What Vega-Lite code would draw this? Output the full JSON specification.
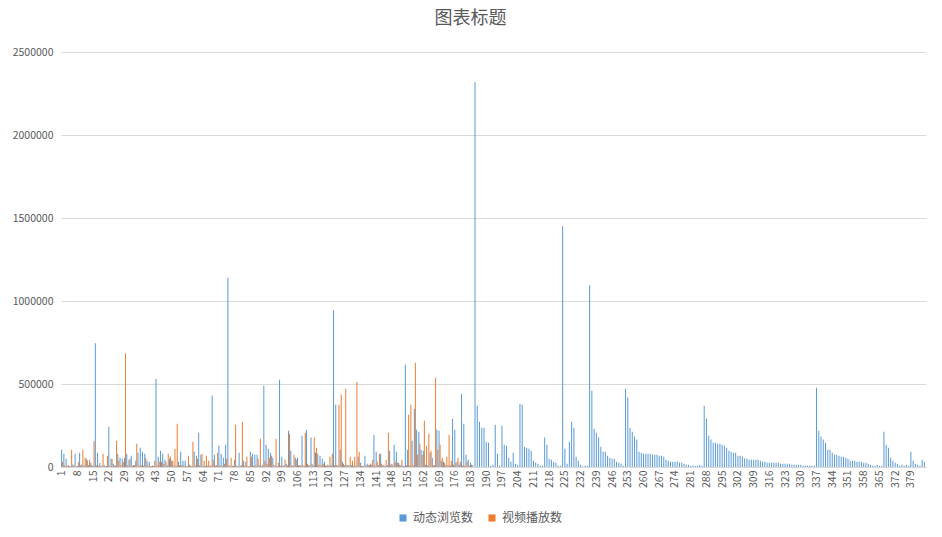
{
  "$schema": "https://vega.github.io/schema/vega-lite/v6.json",
  "autosize": {"type": "none"},
  "width": 865,
  "height": 415,
  "padding": {"left": 61, "top": 52, "right": 16, "bottom": 70},
  "background": "#ffffff",
  "title": {"text": "图表标题", "fontSize": 18, "font": "Noto Sans CJK SC", "fontWeight": "normal", "color": "#595959", "anchor": "middle", "dx": -23, "baseline": "middle", "offset": 10},
  "config": {"view": {"stroke": null}, "font": "Noto Sans CJK SC"},
  "data": {"values": [
{"c":1,"a":104000,"b":32000},{"c":2,"a":80000,"b":10000},{"c":3,"a":50000,"b":8000},{"c":4,"a":10000,"b":6000},{"c":5,"a":5000,"b":104000},
{"c":6,"a":15000,"b":10000},{"c":7,"a":80000,"b":5000},{"c":8,"a":6000,"b":28000},{"c":9,"a":86000,"b":10000},{"c":10,"a":15000,"b":104000},
{"c":11,"a":10000,"b":56000},{"c":12,"a":50000,"b":40000},{"c":13,"a":10000,"b":44000},{"c":14,"a":25000,"b":12000},{"c":15,"a":8000,"b":155000},
{"c":16,"a":745000,"b":10000},{"c":17,"a":86000,"b":8000},{"c":18,"a":24000,"b":6000},{"c":19,"a":10000,"b":80000},{"c":20,"a":10000,"b":5000},
{"c":21,"a":6000,"b":68000},{"c":22,"a":243000,"b":8000},{"c":23,"a":50000,"b":50000},{"c":24,"a":20000,"b":10000},{"c":25,"a":8000,"b":158000},
{"c":26,"a":80000,"b":38000},{"c":27,"a":56000,"b":10000},{"c":28,"a":50000,"b":30000},{"c":29,"a":56000,"b":685000},{"c":30,"a":80000,"b":10000},
{"c":31,"a":44000,"b":50000},{"c":32,"a":68000,"b":8000},{"c":33,"a":10000,"b":12000},{"c":34,"a":38000,"b":140000},{"c":35,"a":86000,"b":8000},
{"c":36,"a":116000,"b":10000},{"c":37,"a":92000,"b":8000},{"c":38,"a":80000,"b":56000},{"c":39,"a":38000,"b":10000},{"c":40,"a":32000,"b":6000},
{"c":41,"a":5000,"b":10000},{"c":42,"a":6000,"b":38000},{"c":43,"a":532000,"b":10000},{"c":44,"a":62000,"b":32000},{"c":45,"a":98000,"b":32000},
{"c":46,"a":80000,"b":20000},{"c":47,"a":44000,"b":30000},{"c":48,"a":10000,"b":80000},{"c":49,"a":50000,"b":62000},{"c":50,"a":38000,"b":38000},
{"c":51,"a":10000,"b":110000},{"c":52,"a":8000,"b":261000},{"c":53,"a":32000,"b":10000},{"c":54,"a":92000,"b":10000},{"c":55,"a":38000,"b":10000},
{"c":56,"a":38000,"b":6000},{"c":57,"a":5000,"b":68000},{"c":58,"a":14000,"b":8000},{"c":59,"a":6000,"b":152000},{"c":60,"a":92000,"b":10000},
{"c":61,"a":68000,"b":50000},{"c":62,"a":206000,"b":10000},{"c":63,"a":74000,"b":80000},{"c":64,"a":8000,"b":38000},{"c":65,"a":6000,"b":68000},
{"c":66,"a":8000,"b":38000},{"c":67,"a":8000,"b":10000},{"c":68,"a":430000,"b":44000},{"c":69,"a":74000,"b":8000},{"c":70,"a":10000,"b":86000},
{"c":71,"a":128000,"b":10000},{"c":72,"a":80000,"b":8000},{"c":73,"a":56000,"b":20000},{"c":74,"a":134000,"b":50000},{"c":75,"a":1140000,"b":10000},
{"c":76,"a":8000,"b":56000},{"c":77,"a":8000,"b":8000},{"c":78,"a":44000,"b":255000},{"c":79,"a":8000,"b":6000},{"c":80,"a":86000,"b":8000},
{"c":81,"a":10000,"b":273000},{"c":82,"a":38000,"b":8000},{"c":83,"a":32000,"b":62000},{"c":84,"a":6000,"b":6000},{"c":85,"a":92000,"b":62000},
{"c":86,"a":80000,"b":8000},{"c":87,"a":74000,"b":10000},{"c":88,"a":74000,"b":50000},{"c":89,"a":10000,"b":170000},{"c":90,"a":5000,"b":10000},
{"c":91,"a":490000,"b":38000},{"c":92,"a":134000,"b":20000},{"c":93,"a":110000,"b":56000},{"c":94,"a":86000,"b":68000},{"c":95,"a":56000,"b":10000},
{"c":96,"a":10000,"b":170000},{"c":97,"a":5000,"b":26000},{"c":98,"a":526000,"b":8000},{"c":99,"a":62000,"b":8000},{"c":100,"a":10000,"b":44000},
{"c":101,"a":20000,"b":10000},{"c":102,"a":218000,"b":200000},{"c":103,"a":98000,"b":10000},{"c":104,"a":10000,"b":74000},{"c":105,"a":56000,"b":44000},
{"c":106,"a":56000,"b":10000},{"c":107,"a":10000,"b":10000},{"c":108,"a":188000,"b":10000},{"c":109,"a":8000,"b":206000},{"c":110,"a":225000,"b":20000},
{"c":111,"a":10000,"b":10000},{"c":112,"a":177000,"b":20000},{"c":113,"a":10000,"b":177000},{"c":114,"a":86000,"b":116000},{"c":115,"a":80000,"b":14000},
{"c":116,"a":68000,"b":10000},{"c":117,"a":50000,"b":20000},{"c":118,"a":32000,"b":10000},{"c":119,"a":8000,"b":14000},{"c":120,"a":10000,"b":62000},
{"c":121,"a":10000,"b":80000},{"c":122,"a":945000,"b":10000},{"c":123,"a":375000,"b":10000},{"c":124,"a":10000,"b":375000},{"c":125,"a":104000,"b":436000},
{"c":126,"a":32000,"b":20000},{"c":127,"a":10000,"b":472000},{"c":128,"a":14000,"b":10000},{"c":129,"a":10000,"b":62000},{"c":130,"a":10000,"b":38000},
{"c":131,"a":8000,"b":62000},{"c":132,"a":10000,"b":514000},{"c":133,"a":62000,"b":92000},{"c":134,"a":26000,"b":8000},{"c":135,"a":6000,"b":8000},
{"c":136,"a":68000,"b":10000},{"c":137,"a":20000,"b":14000},{"c":138,"a":10000,"b":20000},{"c":139,"a":14000,"b":44000},{"c":140,"a":195000,"b":10000},
{"c":141,"a":92000,"b":32000},{"c":142,"a":10000,"b":80000},{"c":143,"a":80000,"b":20000},{"c":144,"a":10000,"b":14000},{"c":145,"a":8000,"b":44000},
{"c":146,"a":10000,"b":206000},{"c":147,"a":98000,"b":14000},{"c":148,"a":20000,"b":10000},{"c":149,"a":134000,"b":32000},{"c":150,"a":92000,"b":26000},
{"c":151,"a":26000,"b":14000},{"c":152,"a":10000,"b":44000},{"c":153,"a":8000,"b":8000},{"c":154,"a":616000,"b":10000},{"c":155,"a":104000,"b":315000},
{"c":156,"a":10000,"b":375000},{"c":157,"a":158000,"b":10000},{"c":158,"a":351000,"b":628000},{"c":159,"a":225000,"b":74000},{"c":160,"a":213000,"b":140000},
{"c":161,"a":104000,"b":74000},{"c":162,"a":98000,"b":279000},{"c":163,"a":14000,"b":128000},{"c":164,"a":10000,"b":200000},{"c":165,"a":86000,"b":98000},
{"c":166,"a":56000,"b":10000},{"c":167,"a":10000,"b":538000},{"c":168,"a":225000,"b":104000},{"c":169,"a":219000,"b":134000},{"c":170,"a":38000,"b":56000},
{"c":171,"a":32000,"b":26000},{"c":172,"a":10000,"b":62000},{"c":173,"a":10000,"b":195000},{"c":174,"a":10000,"b":38000},{"c":175,"a":291000,"b":14000},
{"c":176,"a":225000,"b":26000},{"c":177,"a":32000,"b":56000},{"c":178,"a":14000,"b":32000},{"c":179,"a":442000,"b":8000},{"c":180,"a":261000,"b":8000},
{"c":181,"a":74000,"b":32000},{"c":182,"a":44000,"b":8000},{"c":183,"a":26000,"b":14000},{"c":184,"a":10000},{"c":185,"a":2320000},
{"c":186,"a":369000},{"c":187,"a":273000},{"c":188,"a":237000},{"c":189,"a":237000},{"c":190,"a":152000},
{"c":191,"a":146000},{"c":192,"a":8000},{"c":193,"a":14000},{"c":194,"a":255000},{"c":195,"a":80000},
{"c":196,"a":8000},{"c":197,"a":249000},{"c":198,"a":134000},{"c":199,"a":128000},{"c":200,"a":56000},
{"c":201,"a":32000},{"c":202,"a":86000},{"c":203,"a":20000},{"c":204,"a":14000},{"c":205,"a":381000},
{"c":206,"a":375000},{"c":207,"a":122000},{"c":208,"a":116000},{"c":209,"a":110000},{"c":210,"a":98000},
{"c":211,"a":38000},{"c":212,"a":26000},{"c":213,"a":20000},{"c":214,"a":8000},{"c":215,"a":8000},
{"c":216,"a":177000},{"c":217,"a":134000},{"c":218,"a":50000},{"c":219,"a":44000},{"c":220,"a":32000},
{"c":221,"a":26000},{"c":222,"a":8000},{"c":223,"a":8000},{"c":224,"a":1450000},{"c":225,"a":110000},
{"c":226,"a":20000},{"c":227,"a":152000},{"c":228,"a":273000},{"c":229,"a":237000},{"c":230,"a":62000},
{"c":231,"a":38000},{"c":232,"a":14000},{"c":233,"a":3000},{"c":234,"a":8000},{"c":235,"a":8000},
{"c":236,"a":1095000},{"c":237,"a":460000},{"c":238,"a":231000},{"c":239,"a":206000},{"c":240,"a":177000},
{"c":241,"a":122000},{"c":242,"a":92000},{"c":243,"a":92000},{"c":244,"a":68000},{"c":245,"a":56000},
{"c":246,"a":50000},{"c":247,"a":50000},{"c":248,"a":32000},{"c":249,"a":26000},{"c":250,"a":20000},
{"c":251,"a":8000},{"c":252,"a":472000},{"c":253,"a":418000},{"c":254,"a":237000},{"c":255,"a":213000},
{"c":256,"a":183000},{"c":257,"a":165000},{"c":258,"a":92000},{"c":259,"a":86000},{"c":260,"a":80000},
{"c":261,"a":80000},{"c":262,"a":80000},{"c":263,"a":80000},{"c":264,"a":76000},{"c":265,"a":74000},
{"c":266,"a":74000},{"c":267,"a":68000},{"c":268,"a":68000},{"c":269,"a":62000},{"c":270,"a":44000},
{"c":271,"a":38000},{"c":272,"a":32000},{"c":273,"a":32000},{"c":274,"a":32000},{"c":275,"a":32000},
{"c":276,"a":26000},{"c":277,"a":26000},{"c":278,"a":20000},{"c":279,"a":14000},{"c":280,"a":14000},
{"c":281,"a":8000},{"c":282,"a":8000},{"c":283,"a":8000},{"c":284,"a":8000},{"c":285,"a":14000},
{"c":286,"a":8000},{"c":287,"a":369000},{"c":288,"a":291000},{"c":289,"a":189000},{"c":290,"a":165000},
{"c":291,"a":146000},{"c":292,"a":146000},{"c":293,"a":140000},{"c":294,"a":140000},{"c":295,"a":134000},
{"c":296,"a":128000},{"c":297,"a":116000},{"c":298,"a":98000},{"c":299,"a":92000},{"c":300,"a":86000},
{"c":301,"a":86000},{"c":302,"a":68000},{"c":303,"a":68000},{"c":304,"a":62000},{"c":305,"a":52000},
{"c":306,"a":50000},{"c":307,"a":44000},{"c":308,"a":44000},{"c":309,"a":44000},{"c":310,"a":44000},
{"c":311,"a":44000},{"c":312,"a":38000},{"c":313,"a":32000},{"c":314,"a":32000},{"c":315,"a":26000},
{"c":316,"a":26000},{"c":317,"a":26000},{"c":318,"a":26000},{"c":319,"a":26000},{"c":320,"a":26000},
{"c":321,"a":20000},{"c":322,"a":20000},{"c":323,"a":20000},{"c":324,"a":20000},{"c":325,"a":20000},
{"c":326,"a":14000},{"c":327,"a":14000},{"c":328,"a":14000},{"c":329,"a":14000},{"c":330,"a":14000},
{"c":331,"a":8000},{"c":332,"a":8000},{"c":333,"a":8000},{"c":334,"a":8000},{"c":335,"a":8000},
{"c":336,"a":8000},{"c":337,"a":478000},{"c":338,"a":219000},{"c":339,"a":183000},{"c":340,"a":165000},
{"c":341,"a":146000},{"c":342,"a":104000},{"c":343,"a":104000},{"c":344,"a":86000},{"c":345,"a":74000},
{"c":346,"a":74000},{"c":347,"a":68000},{"c":348,"a":62000},{"c":349,"a":62000},{"c":350,"a":56000},
{"c":351,"a":50000},{"c":352,"a":38000},{"c":353,"a":38000},{"c":354,"a":38000},{"c":355,"a":32000},
{"c":356,"a":32000},{"c":357,"a":32000},{"c":358,"a":26000},{"c":359,"a":26000},{"c":360,"a":20000},
{"c":361,"a":14000},{"c":362,"a":8000},{"c":363,"a":8000},{"c":364,"a":14000},{"c":365,"a":8000},
{"c":366,"a":8000},{"c":367,"a":213000},{"c":368,"a":134000},{"c":369,"a":116000},{"c":370,"a":56000},
{"c":371,"a":38000},{"c":372,"a":26000},{"c":373,"a":20000},{"c":374,"a":8000},{"c":375,"a":14000},
{"c":376,"a":8000},{"c":377,"a":14000},{"c":378,"a":8000},{"c":379,"a":92000},{"c":380,"a":38000},
{"c":381,"a":20000},{"c":382,"a":14000},{"c":383,"a":8000},{"c":384,"a":44000},{"c":385,"a":32000}
  ]},
  "transform": [{"fold": ["a", "b"], "as": ["s", "v"]}],
  "mark": {"type": "bar"},
  "encoding": {
    "x": {"field": "c", "type": "ordinal", "title": null,
      "scale": {"paddingInner": 0.1, "paddingOuter": 0.05},
      "axis": {"labelAngle": -90, "labelExpr": "(datum.value - 1) % 7 == 0 ? datum.value : ''", "labelFontSize": 10.5, "labelColor": "#595959", "labelPadding": 3, "ticks": false, "domainColor": "#d9d9d9", "labelBaseline": "middle", "labelAlign": "right"}},
    "xOffset": {"field": "s", "type": "nominal", "scale": {"domain": ["a", "b"]}},
    "y": {"field": "v", "type": "quantitative", "title": null,
      "scale": {"domain": [0, 2500000], "nice": false},
      "axis": {"values": [0, 500000, 1000000, 1500000, 2000000, 2500000], "format": "d", "labelFontSize": 10.5, "labelColor": "#595959", "labelPadding": 8, "ticks": false, "domain": false, "gridColor": "#d9d9d9"}},
    "color": {"field": "s", "type": "nominal", "title": null,
      "scale": {"domain": ["a", "b"], "range": ["#5B9BD5", "#ED7D31"]},
      "legend": {"orient": "none", "legendX": 336, "legendY": 460, "direction": "horizontal", "symbolType": "square", "symbolSize": 50, "labelFontSize": 12, "labelColor": "#595959", "columnPadding": 12, "labelExpr": "datum.label == 'a' ? '动态浏览数' : '视频播放数'"}}
  }
}
